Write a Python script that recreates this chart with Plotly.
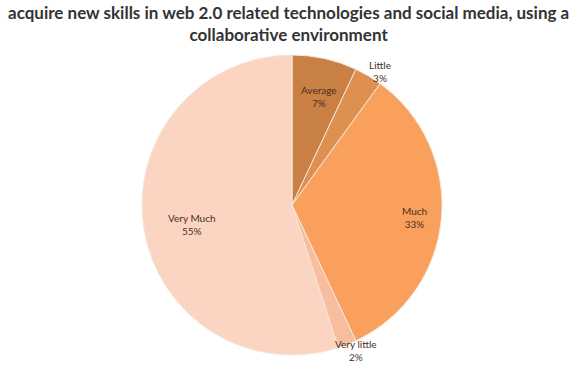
import math
import plotly.graph_objects as go

# Survey answers, clockwise from 12 o'clock
labels = ["Average", "Little", "Much", "Very little", "Very Much"]
values = [7, 3, 33, 2, 55]
colors = ["#c98044", "#de9050", "#f9a05c", "#f8bc9f", "#fbd4c2"]
label_radius = [0.84, 1.15, 0.92, 1.15, 0.85]

W, H = 577, 376
cx, cy, R = 292, 205, 150

fig = go.Figure(go.Pie(
    labels=labels,
    values=values,
    sort=False,
    direction="clockwise",
    rotation=0,
    marker=dict(colors=colors, line=dict(color="#f6e6dc", width=1)),
    textinfo="none",
    hoverinfo="label+percent",
    showlegend=False,
    domain=dict(x=[(cx - R) / W, (cx + R) / W], y=[(H - cy - R) / H, (H - cy + R) / H]),
))

# Slice labels placed along each slice's middle angle
total = sum(values)
cum = 0
for lab, v, f in zip(labels, values, label_radius):
    mid = (cum + v / 2) / total * 2 * math.pi
    cum += v
    px = cx + R * f * math.sin(mid)
    py = cy - R * f * math.cos(mid)
    fig.add_annotation(
        x=px / W, y=1 - py / H, xref="paper", yref="paper",
        text=f"{lab}<br>{round(v / total * 100)}%",
        showarrow=False,
        font=dict(family="Lato", size=10, color="#4a2e22"),
    )

# Two-line heading
fig.add_annotation(
    x=0.5, y=1.0, xref="paper", yref="paper", xanchor="center", yanchor="top",
    text="<b>acquire new skills in web 2.0 related technologies and social media, using a<br>collaborative environment</b>",
    showarrow=False,
    font=dict(family="Lato", size=17, color="#333333"),
)

fig.update_layout(
    width=W, height=H,
    margin=dict(l=0, r=0, t=0, b=0),
    paper_bgcolor="white",
    plot_bgcolor="white",
)

fig.write_html("out.html")
